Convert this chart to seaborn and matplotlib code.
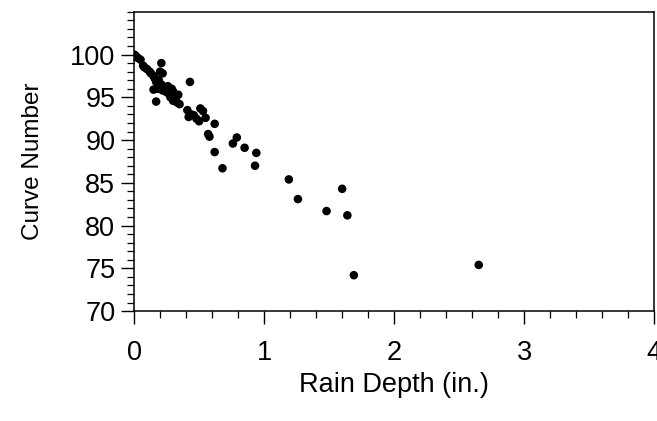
import matplotlib
matplotlib.use("Agg")
import matplotlib.pyplot as plt
import numpy as np
import pandas as pd
import seaborn as sns
from matplotlib.ticker import MultipleLocator

rain_depth = [
    0.00, 0.01, 0.02, 0.03, 0.05, 0.07, 0.08, 0.10, 0.12, 0.13,
    0.15, 0.16, 0.17, 0.18, 0.17, 0.15, 0.21, 0.20, 0.22, 0.19,
    0.21, 0.23, 0.24, 0.25, 0.22, 0.27, 0.28, 0.26, 0.29, 0.30,
    0.31, 0.32, 0.33, 0.35, 0.30, 0.34, 0.43, 0.41, 0.42, 0.44,
    0.46, 0.48, 0.50, 0.51, 0.53, 0.55, 0.57, 0.58, 0.62, 0.62,
    0.68, 0.76, 0.79, 0.85, 0.94, 0.93, 1.19, 1.26, 1.48, 1.60,
    1.64, 1.69, 2.65,
]
curve_number = [
    100.0, 99.9, 99.7, 99.6, 99.4, 98.7, 98.5, 98.3, 98.0, 97.8,
    97.5, 97.2, 96.8, 96.0, 94.5, 95.9, 99.0, 98.0, 97.8, 97.0,
    96.5, 96.2, 95.9, 95.6, 95.8, 95.4, 95.0, 96.3, 96.0, 95.7,
    95.2, 94.8, 94.4, 94.2, 94.6, 95.3, 96.8, 93.5, 92.7, 93.0,
    92.9, 92.5, 92.2, 93.7, 93.4, 92.6, 90.7, 90.4, 91.9, 88.6,
    86.7, 89.6, 90.3, 89.1, 88.5, 87.0, 85.4, 83.1, 81.7, 84.3,
    81.2, 74.2, 75.4,
]

df = pd.DataFrame({"Rain Depth (in.)": rain_depth, "Curve Number": curve_number})

sns.set_style("white")
plt.rcParams["font.family"] = ["Liberation Sans", "DejaVu Sans"]
plt.rcParams["text.color"] = "black"
plt.rcParams["axes.labelcolor"] = "black"
plt.rcParams["xtick.color"] = "black"
plt.rcParams["ytick.color"] = "black"

fig = plt.figure(figsize=(6.57, 4.21), dpi=100)
ax = fig.add_axes([0.204, 0.261, 0.792, 0.711])

sns.scatterplot(data=df, x="Rain Depth (in.)", y="Curve Number", ax=ax,
                color="black", edgecolor="none", s=38, legend=False)

ax.set_xlim(0, 4)
ax.set_ylim(70, 105)
ax.set_xticks([0, 1, 2, 3, 4])
ax.set_yticks([70, 75, 80, 85, 90, 95, 100])
ax.xaxis.set_minor_locator(MultipleLocator(0.2))
ax.yaxis.set_minor_locator(MultipleLocator(1))
ax.tick_params(which="major", direction="out", length=9.5, width=1,
               labelsize=19.5, bottom=True, left=True, top=False, right=False,
               color="black", labelcolor="black")
ax.tick_params(axis="x", which="major", pad=11.5)
ax.tick_params(axis="y", which="major", pad=4)
ax.tick_params(which="minor", direction="out", length=5, width=0.9,
               bottom=True, left=True, top=False, right=False, color="black")

for s in ax.spines.values():
    s.set_color("black")
    s.set_linewidth(1.1)

ax.set_xlabel("Rain Depth (in.)", fontsize=19.5, labelpad=4, color="black")
ax.set_ylabel("Curve Number", fontsize=17.5, labelpad=19, color="black")

fig.savefig("out.png", dpi=100)
